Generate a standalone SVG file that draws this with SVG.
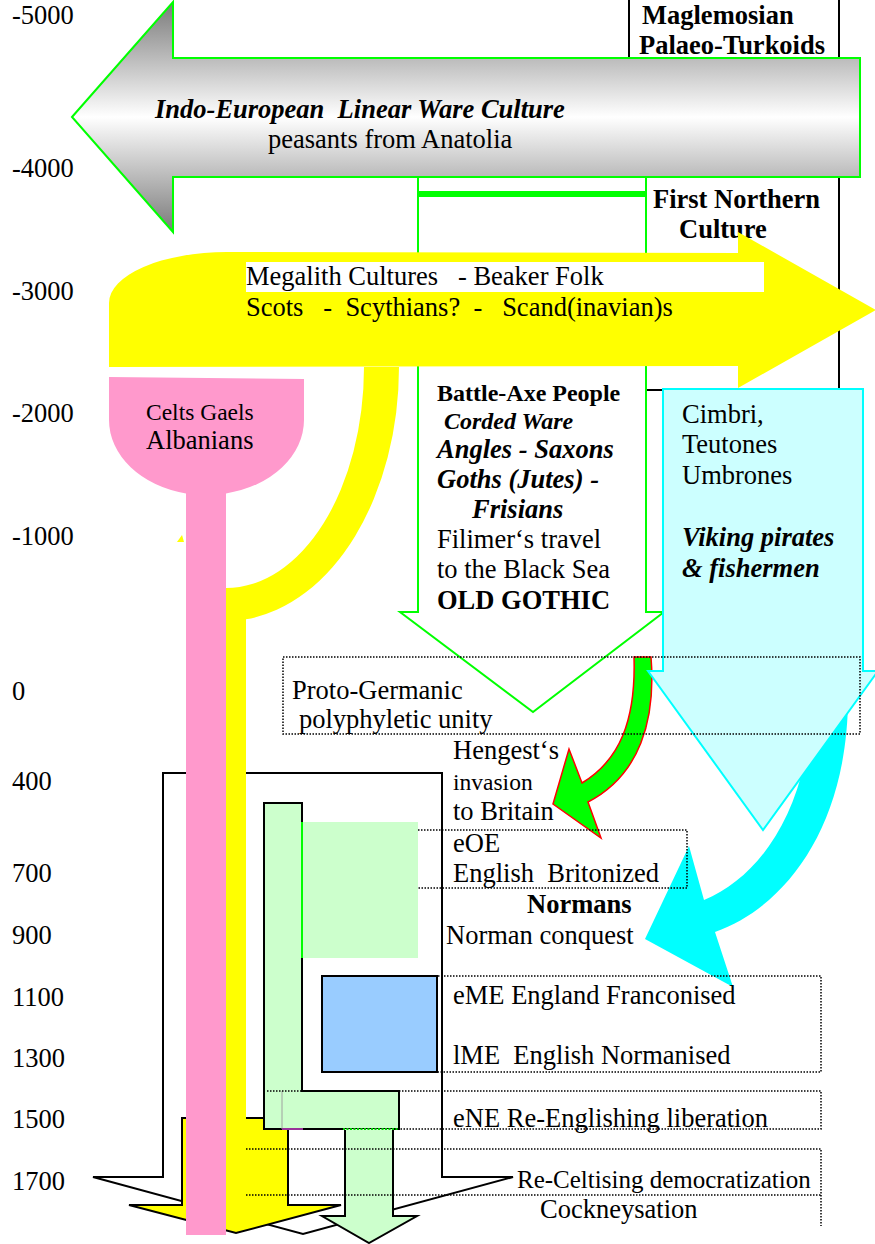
<svg xmlns="http://www.w3.org/2000/svg" width="875" height="1244" viewBox="0 0 875 1244">
<defs>
  <linearGradient id="greyFade" x1="0" y1="0" x2="0" y2="1">
    <stop offset="0" stop-color="#7a7a7a"/>
    <stop offset="0.5" stop-color="#ffffff"/>
    <stop offset="1" stop-color="#7a7a7a"/>
  </linearGradient>
  <style>
    text { font-family: "Liberation Serif", "Times New Roman", serif; font-size: 26.5px; fill: #000; }
    .b { font-weight: bold; }
    .bi { font-weight: bold; font-style: italic; }
    .dot { fill: none; stroke: #000; stroke-width: 1.5; stroke-dasharray: 1.5 1.5; }
    .ink { stroke: #000; stroke-width: 2; }
    .lime { stroke: #00ff00; stroke-width: 2; }
  </style>
</defs>
<rect width="875" height="1244" fill="#fff"/>

<!-- Maglemosian / First Northern frame -->
<g id="north-frame">
  <rect x="629" y="-2" width="210" height="392" fill="none" class="ink"/>
  <text x="642" y="24" class="b">Maglemosian</text>
  <text x="639" y="54" class="b">Palaeo-Turkoids</text>
  <text x="653" y="208" class="b">First Northern</text>
  <text x="679" y="238" class="b">Culture</text>
</g>

<!-- Battle-Axe people, downward arrow -->
<g id="battle-axe">
  <path d="M418,175 L646,175 L646,612 L664,612 L533,712 L400,612 L418,612 Z" fill="#fff" class="lime"/>
  <line x1="418" y1="194" x2="646" y2="194" stroke="#00ff00" stroke-width="6"/>
  <text x="437" y="401" class="b" style="font-size:24px">Battle-Axe People</text>
  <text x="444" y="429" class="bi" style="font-size:24px">Corded Ware</text>
  <text x="437" y="458" class="bi">Angles - Saxons</text>
  <text x="437" y="488" class="bi">Goths (Jutes) -</text>
  <text x="472" y="518" class="bi">Frisians</text>
  <text x="437" y="548">Filimer‘s travel</text>
  <text x="437" y="578">to the Black Sea</text>
  <text x="437" y="609" class="b">OLD GOTHIC</text>
</g>

<!-- Indo-European Linear Ware arrow -->
<g id="indo-european">
  <path d="M72,117 L173,2 L173,58 L860,58 L860,177 L173,177 L173,232 Z" fill="url(#greyFade)" class="lime"/>
  <text x="155" y="118" class="bi" xml:space="preserve">Indo-European  Linear Ware Culture</text>
  <text x="268" y="148">peasants from Anatolia</text>
</g>

<!-- Megalith cultures arrow -->
<g id="megalith">
  <path d="M109,367 L109,303 A118,51 0 0 1 227,252 L738,253 L738,232 L876,310 L738,388 L738,366 Z" fill="#ffff00"/>
  <rect x="246" y="262" width="518" height="30" fill="#fff"/>
  <text x="246" y="285" xml:space="preserve">Megalith Cultures   - Beaker Folk</text>
  <text x="246" y="316" xml:space="preserve">Scots   -  Scythians?  -   Scand(inavian)s</text>
</g>

<!-- curved migration arrows -->
<g id="connectors">
  <path d="M812,690 L848,690 C850,820 790,905 715,932 L733,987 L645,939 L689,846 L704,900 C765,875 812,800 812,690 Z" fill="#00ffff"/>
  <path d="M634,657 L651,657 C656,720 640,775 588,802 L601,838 L553,804 L569,749 L582,783 C620,760 636,720 634,657 Z" fill="#00ff00" stroke="#ff0000" stroke-width="1.5"/>
</g>

<!-- Cimbri / Teutones / Vikings -->
<g id="cimbri">
  <path d="M663,389 L863,389 L863,671 L878,671 L763,830 L648,671 L663,671 Z" fill="#ccffff" stroke="#00ffff" stroke-width="2"/>
  <text x="682" y="423">Cimbri,</text>
  <text x="682" y="453">Teutones</text>
  <text x="682" y="484">Umbrones</text>
  <text x="682" y="546" class="bi">Viking pirates</text>
  <text x="682" y="577" class="bi">&amp; fishermen</text>
</g>

<!-- Britain frame arrow -->
<g id="britain">
  <path d="M163,773 L442,773 L442,1177 L513,1177 L303,1234 L93,1177 L163,1177 Z" fill="#fff" class="ink"/>
</g>

<!-- Beaker descent: curved band, bar and down arrow -->
<g id="beaker-descent">
  <path d="M182,1118 L288,1118 L288,1205 L341,1205 L236,1233 L129,1205 L182,1205 Z" fill="#ffff00" class="ink"/>
  <path d="M364,367 L399,367 A173,254 0 0 1 246,619.3 L246,1120 L226,1120 L226,588 A138,221 0 0 0 364,367 Z" fill="#ffff00"/>
  <polygon points="177,542 182,535 184,542" fill="#ffff00"/>
</g>

<!-- English periods -->
<g id="english">
  <path d="M264,803 L302,803 L302,1091 L399,1091 L399,1129 L264,1129 Z" fill="#ccffcc" class="ink"/>
  <line x1="282" y1="1091" x2="282" y2="1129" stroke="#a0a0a0" stroke-width="1"/>
  <line x1="282" y1="1129" x2="303" y2="1129" stroke="#993399" stroke-width="2"/>
  <rect x="302" y="822" width="116" height="136" fill="#ccffcc"/>
  <line x1="302" y1="822" x2="302" y2="958" stroke="#00ff00" stroke-width="2"/>
  <rect x="322" y="976" width="115" height="96" fill="#99ccff" class="ink"/>
  <polygon points="345,1129 393,1129 393,1216 417,1216 369,1243 322,1216 345,1216" fill="#ccffcc"/>
  <polyline points="345,1130 345,1216 322,1216 369,1243 417,1216 393,1216 393,1130" fill="none" class="ink"/>
  <line x1="343" y1="1129" x2="399" y2="1129" stroke="#00cc00" stroke-width="2" stroke-dasharray="2 1.5"/>
</g>

<!-- Celts -->
<g id="celts">
  <path d="M109,377 L304,379 L304,420 A97,75 0 0 1 226,493.4 L226,1235 L186,1235 L186,493.4 A97,75 0 0 1 109,420 Z" fill="#ff99cc"/>
  <text x="146" y="420" style="font-size:23.5px">Celts Gaels</text>
  <text x="146" y="449">Albanians</text>
</g>

<!-- period boxes -->
<g id="proto-germanic">
  <rect x="283" y="657" width="577" height="77" class="dot"/>
  <text x="292" y="699">Proto-Germanic</text>
  <text x="299" y="728">polyphyletic unity</text>
</g>
<g id="hengest">
  <text x="453" y="759">Hengest‘s</text>
  <text x="453" y="790" style="font-size:23.5px">invasion</text>
  <text x="453" y="820">to Britain</text>
</g>
<g id="eoe">
  <path d="M418,830 L687,830 L687,888 L418,888" class="dot"/>
  <text x="453" y="852">eOE</text>
  <text x="453" y="882" xml:space="preserve">English  Britonized</text>
</g>
<g id="normans">
  <text x="527" y="913" class="b">Normans</text>
  <text x="446" y="944">Norman conquest</text>
</g>
<g id="me">
  <path d="M438,976 L821,976 L821,1072 L438,1072" class="dot"/>
  <text x="453" y="1004">eME England Franconised</text>
  <text x="453" y="1064" xml:space="preserve">lME  English Normanised</text>
</g>
<g id="ene">
  <path d="M267,1091 L821,1091 L821,1129 L399,1129" class="dot"/>
  <text x="453" y="1127">eNE Re-Englishing liberation</text>
</g>
<g id="modern">
  <path d="M246,1149 L821,1149 L821,1226 M246,1195 L821,1195" class="dot"/>
  <text x="517" y="1188" style="font-size:25px">Re-Celtising democratization</text>
  <text x="540" y="1218">Cockneysation</text>
</g>

<!-- time axis -->
<g id="axis">
  <text x="12" y="24">-5000</text>
  <text x="12" y="177">-4000</text>
  <text x="12" y="300">-3000</text>
  <text x="12" y="422">-2000</text>
  <text x="12" y="545">-1000</text>
  <text x="12" y="700">0</text>
  <text x="12" y="790">400</text>
  <text x="12" y="882">700</text>
  <text x="12" y="944">900</text>
  <text x="12" y="1006">1100</text>
  <text x="12" y="1067">1300</text>
  <text x="12" y="1128">1500</text>
  <text x="12" y="1190">1700</text>
</g>
</svg>
